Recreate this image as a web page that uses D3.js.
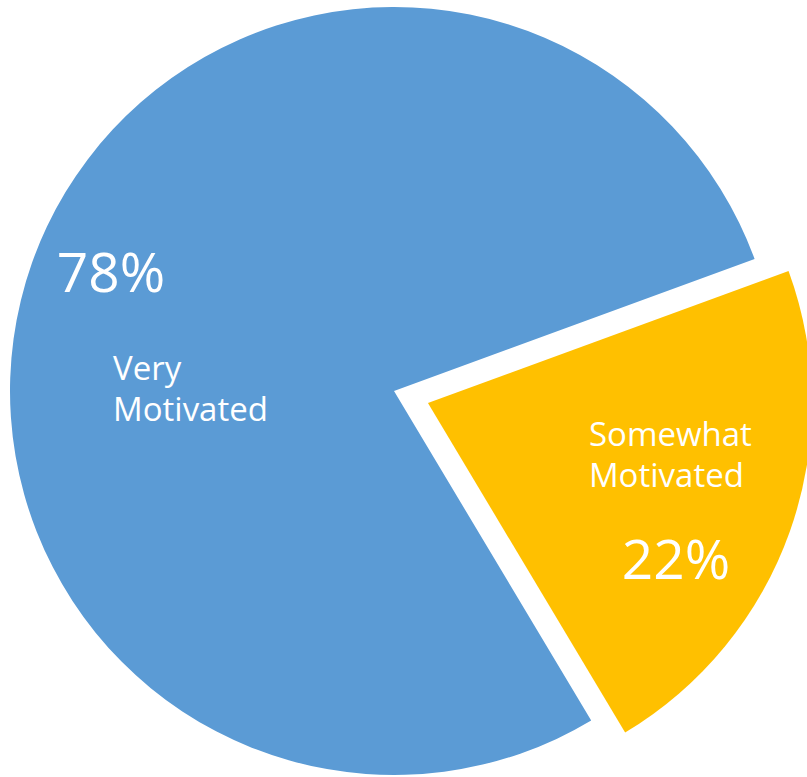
<!DOCTYPE html>
<html>
<head>
<meta charset="utf-8">
<script src="https://cdn.jsdelivr.net/npm/d3@7"></script>
<style>
  html, body { margin: 0; padding: 0; background: #ffffff; }
  svg { display: block; }
</style>
</head>
<body>
<svg id="chart" width="807" height="777"></svg>
<script>
// ---- data ----
const categories = ["Somewhat Motivated", "Very Motivated"];
const values = [22, 78];
const percentLabels = ["22%", "78%"];
const nameLines = [["Somewhat", "Motivated"], ["Very", "Motivated"]];
const colors = ["#FFC000", "#5B9BD5"];

// ---- layout ----
const width = 807, height = 777;
const cx = 394, cy = 391, radius = 384;
const explode = [36, 0];            // slice explosion distance
const startDeg = 69.9;
const toRad = d => d * Math.PI / 180;

// label offsets relative to each slice's own center (dx, dy)
const pctOffset = [[248, 176], [-283, -99]];
const nameOffset = [[161, 43], [-281, -11]];   // left edge / first baseline
const pctSize = 55, nameSize = 33, lineGap = 41;

const svg = d3.select("#chart");
const g = svg.append("g").attr("transform", `translate(${cx},${cy})`);

const pie = d3.pie().sort(null).value(d => d)
  .startAngle(toRad(startDeg)).endAngle(toRad(startDeg) + 2 * Math.PI);
const arcs = pie(values);
const arc = d3.arc().innerRadius(0).outerRadius(radius);

const slices = g.selectAll("g.slice").data(arcs).enter().append("g")
  .attr("class", "slice")
  .attr("transform", (d, i) => {
    const mid = (d.startAngle + d.endAngle) / 2;
    const dx = Math.sin(mid) * explode[i];
    const dy = -Math.cos(mid) * explode[i];
    return `translate(${dx},${dy})`;
  });

slices.append("path")
  .attr("d", arc)
  .attr("fill", (d, i) => colors[i]);

slices.append("text")
  .attr("x", (d, i) => pctOffset[i][0])
  .attr("y", (d, i) => pctOffset[i][1])
  .attr("text-anchor", "middle")
  .attr("fill", "#ffffff")
  .style("font-family", "'Open Sans', sans-serif")
  .style("font-size", pctSize + "px")
  .text((d, i) => percentLabels[i]);

slices.each(function(d, i) {
  const t = d3.select(this).append("text")
    .attr("text-anchor", "start")
    .attr("fill", "#ffffff")
    .style("font-family", "'Open Sans', sans-serif")
    .style("font-size", nameSize + "px");
  nameLines[i].forEach((line, k) => {
    t.append("tspan")
      .attr("x", i === 1 ? -281 + 0 * k : nameOffset[i][0])
      .attr("y", nameOffset[i][1] + k * lineGap)
      .text(line);
  });
});
</script>
</body>
</html>
